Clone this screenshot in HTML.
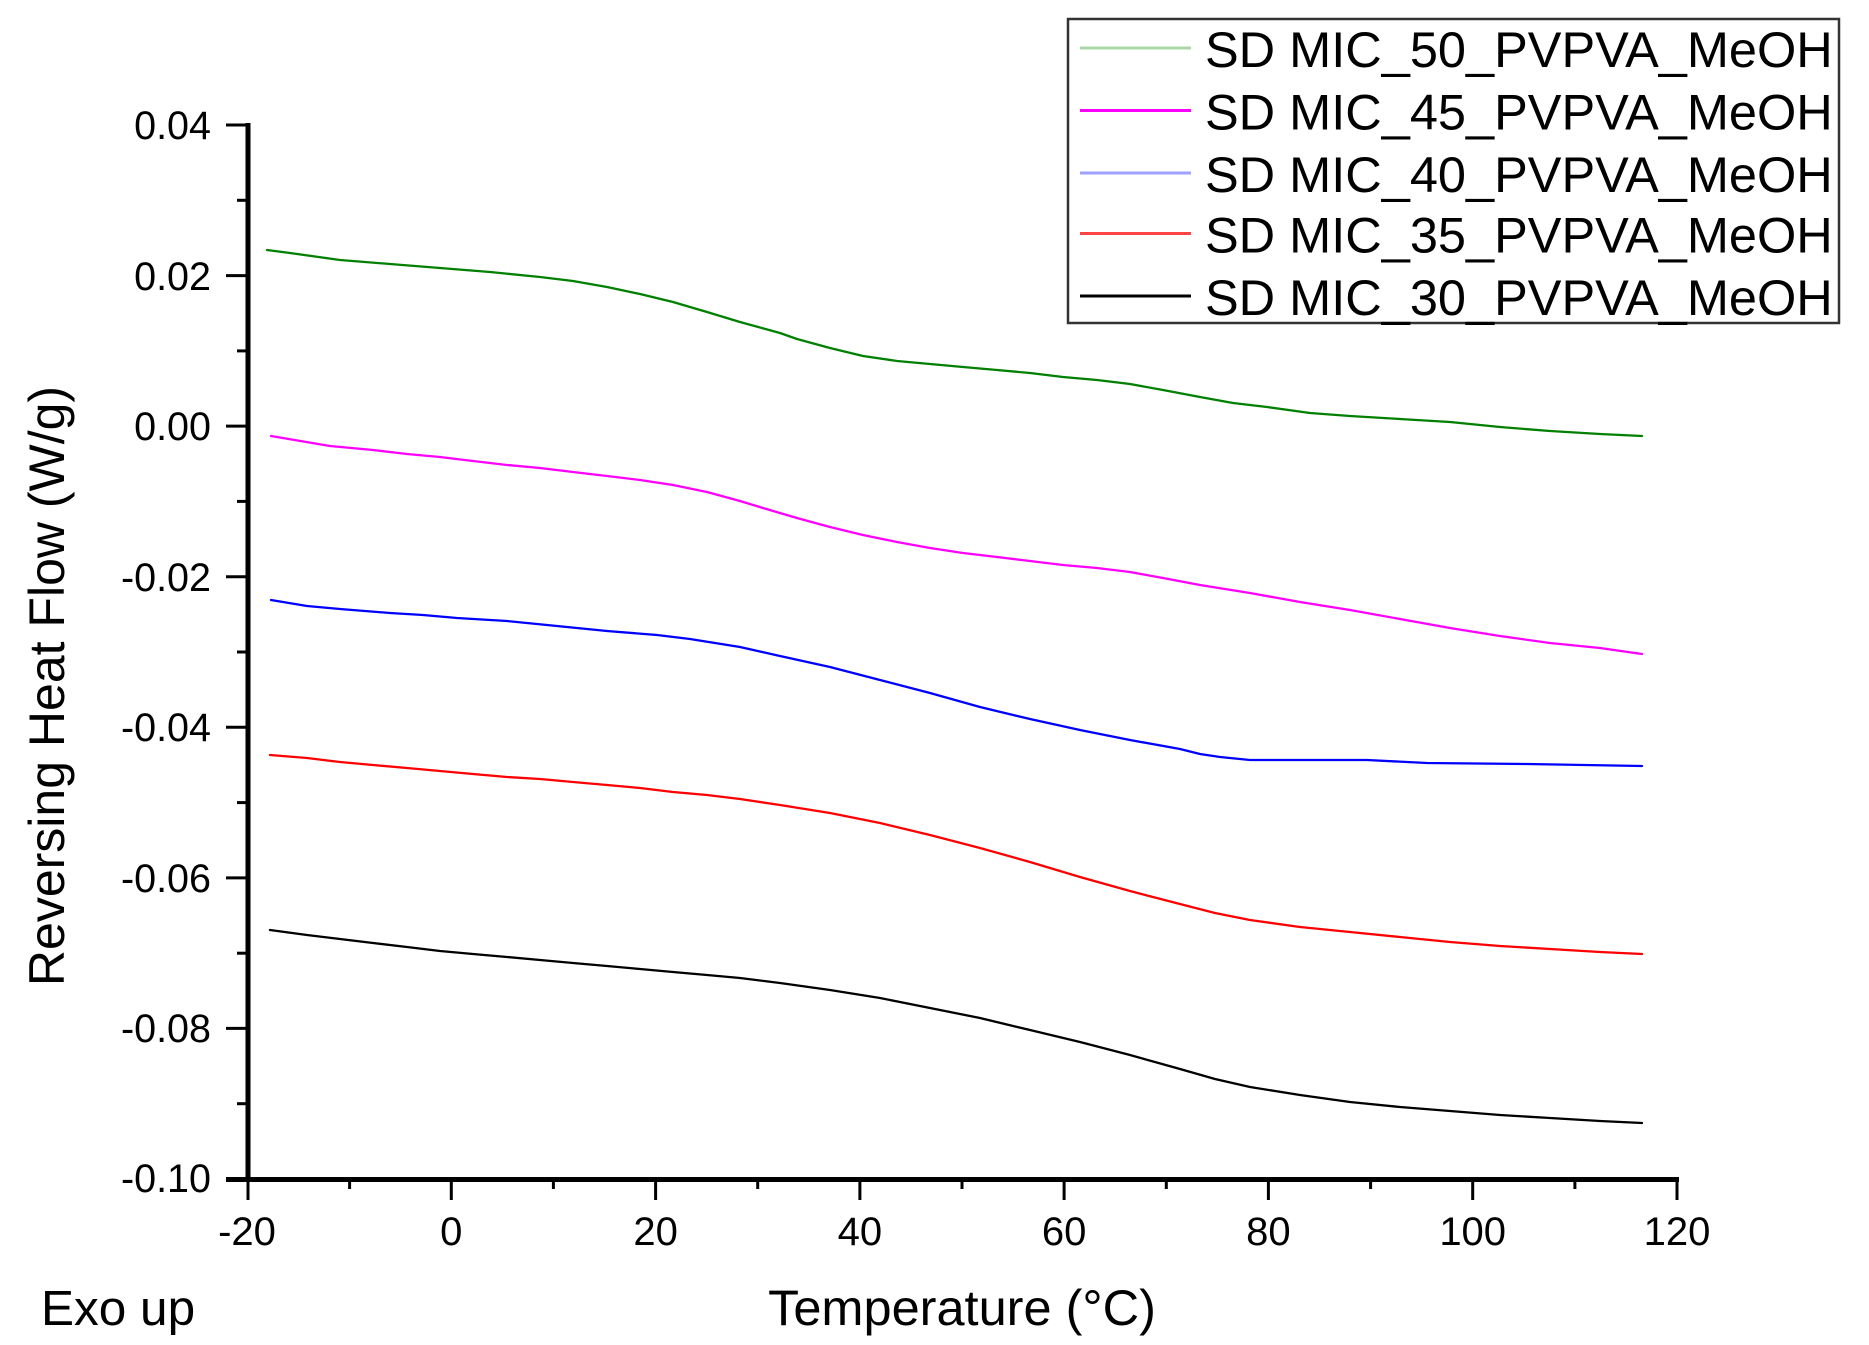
<!DOCTYPE html>
<html>
<head>
<meta charset="utf-8">
<style>
  html, body { margin: 0; padding: 0; background: #ffffff; }
  svg { display: block; }
  text { font-family: "Liberation Sans", Arial, sans-serif; fill: #000; }
</style>
</head>
<body>
<svg width="1869" height="1345" viewBox="0 0 1869 1345" xmlns="http://www.w3.org/2000/svg">
  <rect x="0" y="0" width="1869" height="1345" fill="#ffffff"/>

  <!-- Data curves -->
  <g fill="none" stroke-width="2.3" stroke-linejoin="round" stroke-linecap="round">
    <!-- 50 green -->
    <polyline stroke="#008000" points="267,250 290,253 340,260 390,264 440,268 490,272 540,277 573,281 607,287 640,294 673,302 707,312 740,322 780,333 797,339 830,348 863,356 897,361 930,364 963,367 997,370 1030,373 1063,377 1097,380 1130,384 1163,390 1200,397 1233,403 1267,407 1310,413 1350,416 1400,419 1450,422 1500,427 1550,431 1600,434 1642,436"/>
    <!-- 45 magenta -->
    <polyline stroke="#ff00ff" points="271,436 330,446 373,450 407,454 440,457 473,461 507,465 540,468 573,472 607,476 640,480 673,485 707,492 740,501 763,508 797,518 830,527 863,535 897,542 930,548 963,553 997,557 1030,561 1063,565 1097,568 1130,572 1163,578 1200,585 1250,593 1300,602 1350,610 1400,619 1450,628 1500,636 1550,643 1600,648 1642,654"/>
    <!-- 40 blue -->
    <polyline stroke="#0000ff" points="271,600 307,606 340,609 390,613 423,615 457,618 507,621 557,626 607,631 657,635 690,639 740,647 780,656 830,667 880,680 930,693 980,707 1030,719 1080,730 1130,740 1180,749 1200,754 1220,757 1250,760 1367,760 1427,763 1527,764 1642,766"/>
    <!-- 35 red -->
    <polyline stroke="#ff0000" points="270,755 307,758 340,762 373,765 407,768 440,771 473,774 507,777 540,779 573,782 607,785 640,788 673,792 707,795 740,799 780,805 830,813 880,823 930,835 980,848 1030,862 1080,877 1130,891 1180,904 1215,913 1250,920 1300,927 1350,932 1400,937 1450,942 1500,946 1550,949 1600,952 1642,954"/>
    <!-- 30 black -->
    <polyline stroke="#000000" points="270,930 307,935 340,939 373,943 407,947 440,951 473,954 507,957 540,960 573,963 607,966 640,969 673,972 707,975 740,978 780,983 830,990 880,998 930,1008 980,1018 1030,1030 1080,1042 1130,1055 1180,1069 1215,1079 1250,1087 1300,1095 1350,1102 1400,1107 1450,1111 1500,1115 1550,1118 1600,1121 1642,1123"/>
  </g>

  <!-- Axes -->
  <g stroke="#000" fill="none">
    <line x1="248" y1="123" x2="248" y2="1182" stroke-width="5"/>
    <line x1="226" y1="1179.5" x2="1679" y2="1179.5" stroke-width="5"/>
    <g stroke-width="3">
      <line x1="226" y1="125" x2="248" y2="125"/>
      <line x1="226" y1="275.6" x2="248" y2="275.6"/>
      <line x1="226" y1="426.1" x2="248" y2="426.1"/>
      <line x1="226" y1="576.7" x2="248" y2="576.7"/>
      <line x1="226" y1="727.3" x2="248" y2="727.3"/>
      <line x1="226" y1="877.9" x2="248" y2="877.9"/>
      <line x1="226" y1="1028.4" x2="248" y2="1028.4"/>
    </g>
    <g stroke-width="3">
      <line x1="237" y1="200.3" x2="248" y2="200.3"/>
      <line x1="237" y1="350.9" x2="248" y2="350.9"/>
      <line x1="237" y1="501.4" x2="248" y2="501.4"/>
      <line x1="237" y1="652" x2="248" y2="652"/>
      <line x1="237" y1="802.6" x2="248" y2="802.6"/>
      <line x1="237" y1="953.2" x2="248" y2="953.2"/>
      <line x1="237" y1="1103.7" x2="248" y2="1103.7"/>
    </g>
    <g stroke-width="3">
      <line x1="248" y1="1179" x2="248" y2="1200"/>
      <line x1="451.3" y1="1179" x2="451.3" y2="1200"/>
      <line x1="655.6" y1="1179" x2="655.6" y2="1200"/>
      <line x1="859.9" y1="1179" x2="859.9" y2="1200"/>
      <line x1="1064.1" y1="1179" x2="1064.1" y2="1200"/>
      <line x1="1268.4" y1="1179" x2="1268.4" y2="1200"/>
      <line x1="1472.7" y1="1179" x2="1472.7" y2="1200"/>
      <line x1="1677" y1="1179" x2="1677" y2="1200"/>
    </g>
    <g stroke-width="3">
      <line x1="349.6" y1="1179" x2="349.6" y2="1189"/>
      <line x1="553.4" y1="1179" x2="553.4" y2="1189"/>
      <line x1="757.7" y1="1179" x2="757.7" y2="1189"/>
      <line x1="962" y1="1179" x2="962" y2="1189"/>
      <line x1="1166.3" y1="1179" x2="1166.3" y2="1189"/>
      <line x1="1370.6" y1="1179" x2="1370.6" y2="1189"/>
      <line x1="1574.9" y1="1179" x2="1574.9" y2="1189"/>
    </g>
  </g>

  <!-- Y tick labels -->
  <g font-size="39.5" text-anchor="end">
    <text x="211" y="139">0.04</text>
    <text x="211" y="290">0.02</text>
    <text x="211" y="440">0.00</text>
    <text x="211" y="591">-0.02</text>
    <text x="211" y="741">-0.04</text>
    <text x="211" y="892">-0.06</text>
    <text x="211" y="1042">-0.08</text>
    <text x="211" y="1192">-0.10</text>
  </g>

  <!-- X tick labels -->
  <g font-size="40" text-anchor="middle">
    <text x="247" y="1245">-20</text>
    <text x="451.3" y="1245">0</text>
    <text x="655.6" y="1245">20</text>
    <text x="859.9" y="1245">40</text>
    <text x="1064.1" y="1245">60</text>
    <text x="1268.4" y="1245">80</text>
    <text x="1472.7" y="1245">100</text>
    <text x="1677" y="1245">120</text>
  </g>

  <!-- Axis titles -->
  <text x="962" y="1325" font-size="50.5" text-anchor="middle">Temperature (°C)</text>
  <text x="41" y="1325" font-size="49.5">Exo up</text>
  <text transform="translate(64,686) rotate(-90)" font-size="50" text-anchor="middle">Reversing Heat Flow (W/g)</text>

  <!-- Legend -->
  <rect x="1068" y="19" width="771" height="304" fill="#ffffff" stroke="#333333" stroke-width="2.5"/>
  <g stroke-width="3">
    <line x1="1080" y1="48" x2="1191" y2="48" stroke="#a8d8a8"/>
    <line x1="1080" y1="110.5" x2="1191" y2="110.5" stroke="#ff00ff"/>
    <line x1="1080" y1="173" x2="1191" y2="173" stroke="#a0a0ff"/>
    <line x1="1080" y1="233.5" x2="1191" y2="233.5" stroke="#ff4444"/>
    <line x1="1080" y1="296" x2="1191" y2="296" stroke="#000000"/>
  </g>
  <g font-size="50.5">
    <text x="1205" y="67">SD MIC_50_PVPVA_MeOH</text>
    <text x="1205" y="129.5">SD MIC_45_PVPVA_MeOH</text>
    <text x="1205" y="192">SD MIC_40_PVPVA_MeOH</text>
    <text x="1205" y="252.5">SD MIC_35_PVPVA_MeOH</text>
    <text x="1205" y="315">SD MIC_30_PVPVA_MeOH</text>
  </g>
</svg>
</body>
</html>
